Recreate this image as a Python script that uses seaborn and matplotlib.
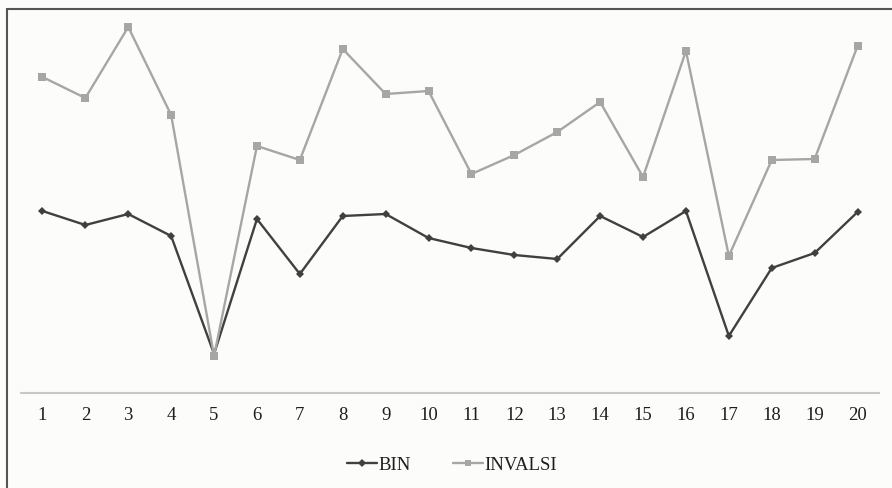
import matplotlib
matplotlib.use("Agg")
import matplotlib.pyplot as plt
import seaborn as sns
import pandas as pd
from matplotlib.lines import Line2D

items = list(range(1, 21))
bin_vals = [182, 168, 179, 157, 39, 174, 119, 177, 179, 155, 145, 138, 134, 177, 156, 182, 57, 125, 140, 181]
invalsi_vals = [316, 295, 366, 278, 37, 247, 233, 344, 299, 302, 219, 238, 261, 291, 216, 342, 137, 233, 234, 347]
series_names = ["BIN", "INVALSI"]

df = pd.DataFrame({
    "item": items * 2,
    "value": bin_vals + invalsi_vals,
    "series": [series_names[0]] * 20 + [series_names[1]] * 20,
})

sns.set_theme(style="white")
plt.rcParams["font.family"] = ["Liberation Serif", "DejaVu Serif"]

bg = "#fcfcfa"
fig = plt.figure(figsize=(8.92, 4.88), dpi=100, facecolor=bg)
ax = fig.add_axes([21/892, 1 - 393/488, (879 - 21)/892, (393 - 15)/488])
ax.set_facecolor(bg)

palette = {"BIN": "#404040", "INVALSI": "#a6a6a6"}
markers = {"BIN": "D", "INVALSI": "s"}
sns.lineplot(data=df, x="item", y="value", hue="series", style="series",
             palette=palette, markers=markers, dashes=False, ax=ax,
             linewidth=1.7, markersize=5, markeredgewidth=0, legend=False)
for line in ax.lines:
    if line.get_marker() == "D":
        line.set_markersize(4)
    else:
        line.set_markersize(6)

ax.set_xlim(0.5, 20.5)
ax.set_ylim(0, 378)
ax.set_xticks(items)
ax.set_xticklabels([str(i) for i in items], fontsize=13.5, color="#1e1e1e")
ax.set_yticks([])
ax.set_xlabel("")
ax.set_ylabel("")
for s in ["top", "right", "left"]:
    ax.spines[s].set_visible(False)
ax.spines["bottom"].set_color("#c8c8c8")
ax.spines["bottom"].set_linewidth(1.5)
ax.tick_params(axis="x", length=0, pad=10)

handles = [Line2D([0], [0], color=palette[n], marker=markers[n], lw=1.7,
                  markersize=4 if n == "BIN" else 5, markeredgewidth=0) for n in series_names]
fig.legend(handles, series_names, loc="center", bbox_to_anchor=(452/892, 1 - 465/488),
           ncol=2, frameon=False, fontsize=13.5, handlelength=1.6, handletextpad=0.1,
           columnspacing=2.2, labelcolor="#1e1e1e")

fig.add_artist(Line2D([7/892, 1], [1 - 9/488, 1 - 9/488], color="#555555", lw=1.5))
fig.add_artist(Line2D([7/892, 7/892], [0, 1 - 9/488], color="#555555", lw=1.5))

fig.savefig("out.png", dpi=100, facecolor=bg)
